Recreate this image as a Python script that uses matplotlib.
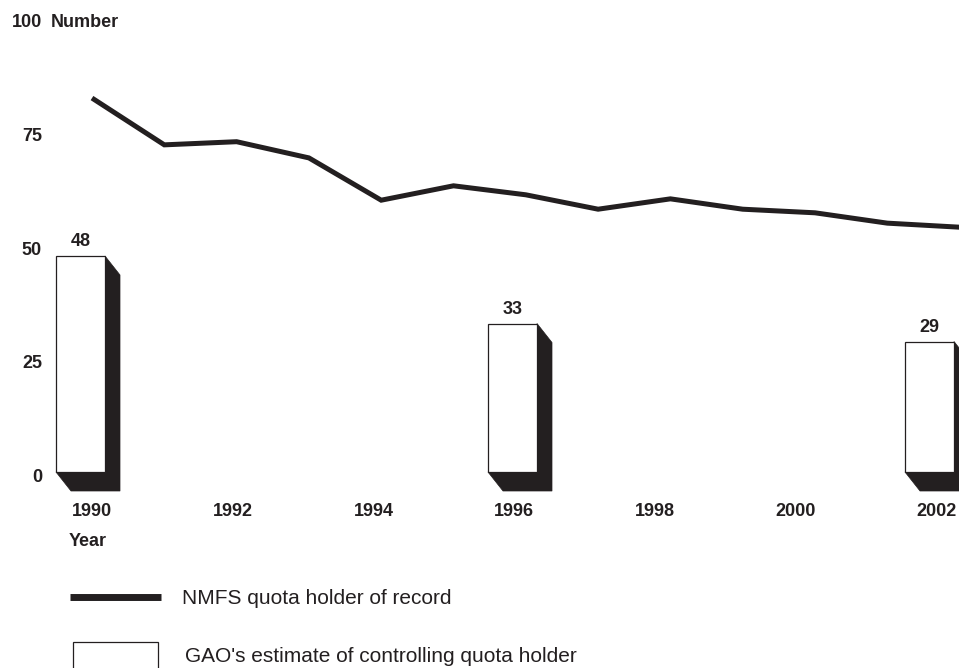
#!/usr/bin/env python3
"""NMFS quota holders of record vs GAO estimate of controlling holders."""

import matplotlib
matplotlib.use("Agg")
import matplotlib.pyplot as plt
from matplotlib.patches import Polygon, Rectangle
from matplotlib.lines import Line2D

plt.rcParams["font.family"] = ["Liberation Sans", "DejaVu Sans"]

INK = "#231f20"

# data
years = list(range(1990, 2003))
nmfs_holders = [83.1, 72.7, 73.4, 69.8, 60.4, 63.6, 61.6,
                58.4, 60.7, 58.4, 57.6, 55.3, 54.4]
gao_years = [1990, 1996, 2002]
gao_holders = [48, 33, 29]
xtick_years = [1990, 1992, 1994, 1996, 1998, 2000, 2002]
ytick_values = [0, 25, 50, 75, 100]

W, H = 959, 668
# pixel layout of the drawing (line scale)
X0, XSTEP = 92, 72.3      # px of 1990, px per year
Y0, YSTEP = 472, 4.5      # px (from top) of 0, px per unit


def px_x(px):
    return 1990 + (px - X0) / XSTEP


def px_y(py):
    return (Y0 - py) / YSTEP


fig = plt.figure(figsize=(W / 100, H / 100), dpi=100)
ax = fig.add_axes([0, 0, 1, 1])
ax.set_xlim(px_x(0), px_x(W))
ax.set_ylim(px_y(H), px_y(0))
ax.axis("off")

# NMFS line
ax.plot(years, nmfs_holders, color=INK, linewidth=3.6,
        solid_joinstyle="miter", solid_capstyle="butt", zorder=3)

# 3-D looking bars
bar_w = 49 / XSTEP
dx, dy = 15 / XSTEP, 19 / YSTEP
for yr, v in zip(gao_years, gao_holders):
    c = px_x(80.5) + (yr - 1990) * (72.0 / XSTEP)
    c = min(c, px_x(954) - bar_w / 2)
    L, R = c - bar_w / 2, c + bar_w / 2
    shadow = Polygon([(R, v), (R + dx, v - dy), (R + dx, -dy),
                      (L + dx, -dy), (L, 0), (R, 0)],
                     closed=True, facecolor=INK, edgecolor=INK,
                     linewidth=0.5, zorder=2)
    ax.add_patch(shadow)
    ax.add_patch(Rectangle((L, 0), bar_w, v, facecolor="white",
                           edgecolor=INK, linewidth=0.9, zorder=2.5))
    ax.text(c, v + 14 / YSTEP, f"{v}", ha="center", va="center",
            fontsize=13, fontweight="bold", color=INK)

# y tick labels
for v in ytick_values:
    yl = px_y(478 - 4.56 * v)
    ax.text(px_x(42), yl, f"{v}", ha="right", va="center",
            fontsize=13, fontweight="bold", color=INK)
ax.text(px_x(51), px_y(22), "Number", ha="left", va="center",
        fontsize=13, fontweight="bold", color=INK)

# x tick labels
for yr in xtick_years:
    xl = px_x(91.9) + (yr - 1990) * (70.38 / XSTEP)
    ax.text(xl, px_y(512), f"{yr}", ha="center", va="center",
            fontsize=13, fontweight="bold", color=INK)
ax.text(px_x(88), px_y(541), "Year", ha="center", va="center",
        fontsize=13, fontweight="bold", color=INK)

# legend
fig.add_artist(Line2D([70 / W, 161 / W], [1 - 597 / H] * 2,
                      transform=fig.transFigure, color=INK,
                      linewidth=5.0, solid_capstyle="butt"))
fig.text(182 / W, 1 - 599 / H, "NMFS quota holder of record",
         ha="left", va="center", fontsize=15, color=INK)
fig.add_artist(Rectangle((73 / W, 1 - 690 / H), 85 / W, 48 / H,
                         transform=fig.transFigure, facecolor="white",
                         edgecolor=INK, linewidth=0.9))
fig.text(185 / W, 1 - 657 / H, "GAO's estimate of controlling quota holder",
         ha="left", va="center", fontsize=15, color=INK)

fig.savefig("out.png", dpi=100)
